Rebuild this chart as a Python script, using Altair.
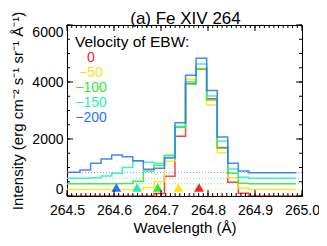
import altair as alt
import pandas as pd

# ---------------- data ----------------
wavelength = [264.4941, 264.5165, 264.5390, 264.5614, 264.5839, 264.6063, 264.6288,
              264.6512, 264.6737, 264.6961, 264.7186, 264.7410, 264.7635, 264.7859,
              264.8084, 264.8308, 264.8533, 264.8757, 264.8982, 264.9206, 264.9431,
              264.9655, 264.9880]

velocities = ["0", "\u221250", "\u2212100", "\u2212150", "\u2212200"]
colors = ["#ff2020", "#ffe010", "#30e830", "#22f0b0", "#2a70ff"]

int_v0 = [0, 0, 0, 0, 0, 0, 0, 0, 0, 90, 690, 2095, 3950, 4460, 3415, 1700, 480, 95,
          0, 0, 0, 0, 0]
int_v50 = [230, 230, 230, 230, 230, 230, 230, 230, 300, 500, 1220, 2400, 4100, 4480,
           3190, 1520, 640, 280, 230, 230, 230, 230, 230]
int_v100 = [430, 430, 430, 430, 430, 430, 440, 520, 880, 1080, 1430, 2410, 3930, 4456,
            3370, 1673, 800, 450, 430, 430, 430, 430, 430]
int_v150 = [625, 625, 625, 640, 700, 800, 1000, 1230, 1180, 1150, 1360, 2450, 4010,
            4630, 3510, 1930, 950, 660, 625, 625, 625, 625, 625]
int_v200 = [825, 830, 912, 1147, 1298, 1440, 1380, 1240, 935, 970, 1330, 2570, 4235,
            4830, 3700, 2070, 1147, 877, 820, 820, 820, 820, 820]
intensities = [int_v0, int_v50, int_v100, int_v150, int_v200]

background = [0, 230, 430, 625, 820]
ebw_position = [264.781, 264.737, 264.693, 264.649, 264.605]
marker_level = 300

x_major = [264.5, 264.6, 264.7, 264.8, 264.9, 265.0]
y_major = [0, 2000, 4000, 6000]

# ---------------- layout ----------------
W, H = 235, 171
FONT = "Liberation Sans"
xs = alt.Scale(domain=[264.5, 265.0], nice=False, zero=False)
ys = alt.Scale(domain=[0, 6000], nice=False, zero=False)

x_minor = [round(264.5 + 0.01 * i, 3) for i in range(51)]
y_minor = [500 * i for i in range(13)]

layers = []

# dotted background levels
for lev, col in zip(background, colors):
    layers.append(
        alt.Chart(pd.DataFrame({"I": [lev]})).mark_rule(
            color=col, strokeDash=[1, 2], strokeWidth=1, opacity=0.7
        ).encode(y=alt.Y("I:Q", scale=ys))
    )

# profiles
for i, (vel, col, vals) in enumerate(zip(velocities, colors, intensities)):
    df = pd.DataFrame({"wl": wavelength, "I": vals})
    xenc = alt.X("wl:Q", scale=xs)
    yenc = alt.Y("I:Q", scale=ys)
    if i == 0:
        xenc = alt.X("wl:Q", scale=xs, title="Wavelength (\u00c5)",
                     axis=alt.Axis(values=x_major, format=".1f", labelFlush=False,
                                   labelPadding=7, titlePadding=3))
        yenc = alt.Y("I:Q", scale=ys,
                     title="Intensity (erg cm\u207b\u00b2 s\u207b\u00b9 sr\u207b\u00b9 \u00c5\u207b\u00b9)",
                     axis=alt.Axis(values=y_major, format="d", labelFlush=True,
                                   labelPadding=4, titlePadding=6))
    layers.append(
        alt.Chart(df).mark_line(interpolate="step", color=col, strokeWidth=1.5,
                                opacity=0.85, clip=True).encode(x=xenc, y=yenc)
    )

# EBW position markers
layers.append(
    alt.Chart(pd.DataFrame({"wl": ebw_position, "I": [marker_level] * 5, "v": velocities}))
    .mark_point(shape="triangle-up", filled=True, size=95, opacity=1)
    .encode(x=alt.X("wl:Q", scale=xs), y=alt.Y("I:Q", scale=ys),
            color=alt.Color("v:N", scale=alt.Scale(domain=velocities, range=colors), legend=None))
)

# inward ticks on all four sides
xmaj = pd.DataFrame({"wl": x_major})
xmin = pd.DataFrame({"wl": x_minor})
ymaj = pd.DataFrame({"I": y_major})
ymin = pd.DataFrame({"I": y_minor})
tick_style = dict(color="black", strokeWidth=1)
for d, ln in ((xmaj, 6), (xmin, 3)):
    layers.append(alt.Chart(d).mark_rule(**tick_style).encode(
        x=alt.X("wl:Q", scale=xs), y=alt.value(H), y2=alt.value(H - ln)))
    layers.append(alt.Chart(d).mark_rule(**tick_style).encode(
        x=alt.X("wl:Q", scale=xs), y=alt.value(0), y2=alt.value(ln)))
for d, ln in ((ymaj, 6), (ymin, 3)):
    layers.append(alt.Chart(d).mark_rule(**tick_style).encode(
        y=alt.Y("I:Q", scale=ys), x=alt.value(0), x2=alt.value(ln)))
    layers.append(alt.Chart(d).mark_rule(**tick_style).encode(
        y=alt.Y("I:Q", scale=ys), x=alt.value(W), x2=alt.value(W - ln)))

# title as text above the plot
layers.append(alt.Chart(pd.DataFrame({"t": ["(a) Fe XIV 264"]})).mark_text(
    align="center", baseline="alphabetic", font=FONT, fontSize=17, color="black", clip=False
).encode(text="t:N", x=alt.value(W / 2 + 1), y=alt.value(-1.5)))

# in-plot legend text
one = pd.DataFrame({"t": ["Velocity of EBW:"]})
layers.append(alt.Chart(one).mark_text(align="left", baseline="alphabetic", font=FONT,
                                       fontSize=15.5, color="black").encode(
    text="t:N", x=alt.value(8), y=alt.value(21.5)))
for k, (vel, col) in enumerate(zip(velocities, colors)):
    layers.append(alt.Chart(pd.DataFrame({"t": [vel]})).mark_text(
        align="center", baseline="alphabetic", font=FONT, fontSize=14, color=col).encode(
        text="t:N", x=alt.value(24), y=alt.value(36.5 + 15 * k)))

chart = alt.layer(*layers).properties(
    width=W, height=H,
    autosize=alt.AutoSizeParams(type="none"),
    padding={"left": 59, "top": 17, "right": 17, "bottom": 42},
).configure_view(stroke="black", strokeWidth=1).configure_axis(
    domain=False, ticks=False, grid=False, labelFont=FONT, labelFontSize=14,
    labelColor="black", titleFont=FONT, titleFontSize=15, titleFontWeight="normal",
    titleColor="black"
)

chart.save("out.html", embed_options={"renderer": "svg", "actions": False})
